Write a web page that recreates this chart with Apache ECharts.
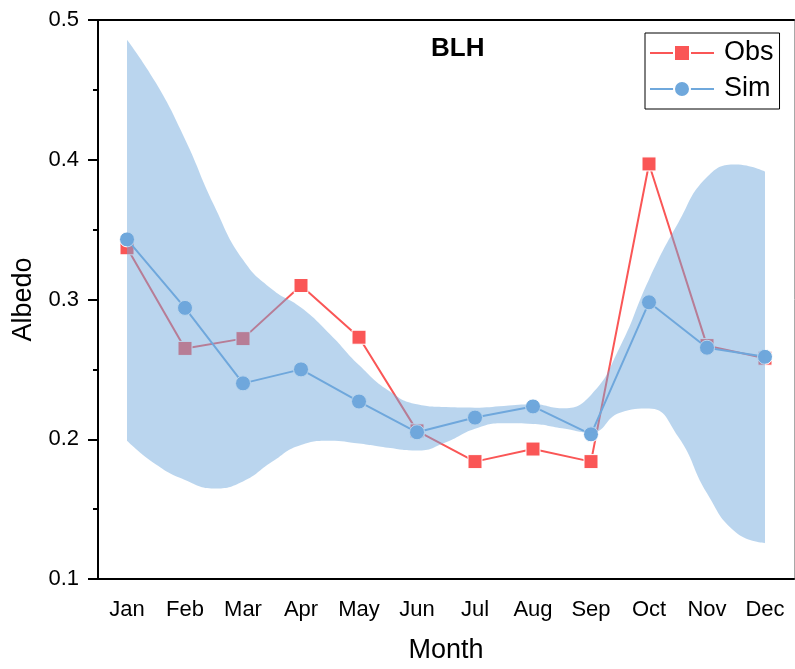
<!DOCTYPE html>
<html>
<head>
<meta charset="utf-8">
<script src="https://cdn.jsdelivr.net/npm/echarts@6/dist/echarts.min.js"></script>
<style>
  html, body { margin: 0; padding: 0; background: #fff; }
  #chart { width: 795px; height: 669px; }
</style>
</head>
<body>
<div id="chart"></div>
<script>
// Monthly albedo at BLH: observed, simulated and the simulated envelope
const months = ['Jan', 'Feb', 'Mar', 'Apr', 'May', 'Jun', 'Jul', 'Aug', 'Sep', 'Oct', 'Nov', 'Dec'];
const obs = [0.337, 0.265, 0.272, 0.310, 0.273, 0.206, 0.184, 0.193, 0.184, 0.397, 0.267, 0.258];
const sim = [0.343, 0.294, 0.240, 0.250, 0.227, 0.205, 0.2155, 0.2235, 0.2035, 0.298, 0.2655, 0.259];

// envelope of the simulation, sampled every half month (0 = Jan, 11 = Dec)
const envPos = ['0', '0.5', '1', '1.5', '2', '2.5', '3', '3.5', '4', '4.5', '5', '5.5',
                '6', '6.5', '7', '7.5', '8', '8.5', '9', '9.5', '10', '10.5', '11'];
const envUpper = [0.486, 0.455, 0.415, 0.368, 0.329, 0.308, 0.295, 0.276, 0.254, 0.236, 0.226, 0.224,
                  0.2236, 0.2248, 0.226, 0.2232, 0.2327, 0.267, 0.315, 0.355, 0.388, 0.397, 0.392];
const envLower = [0.200, 0.183, 0.172, 0.166, 0.171, 0.185, 0.197, 0.200, 0.198, 0.195, 0.193, 0.199,
                  0.2086, 0.2125, 0.212, 0.2089, 0.2058, 0.220, 0.223, 0.203, 0.1625, 0.1345, 0.127];
const yTicks = { min: 0.1, max: 0.5, step: 0.1 };

const FONT = 'Liberation Sans, Arial, sans-serif';
const RED = '#FA5656';
const BLUE = '#6FA8DC';

// envelope drawn as a thickness stacked on the lower bound
const envSpan = envUpper.map((u, i) => +(u - envLower[i]).toFixed(4));

// plot box; the envelope grid runs from the Jan centre to the Dec centre
const PLOT = { left: 98, right: 1, top: 20, bottom: 88 };
const band = (795 - PLOT.left - PLOT.right) / months.length;

const chart = echarts.init(document.getElementById('chart'), null, { renderer: 'canvas' });

chart.setOption({
  animation: false,
  backgroundColor: '#fff',
  title: {
    text: 'BLH',
    left: 426,
    top: 31,
    textStyle: { fontFamily: FONT, fontSize: 26, fontWeight: 'bold', color: '#000' }
  },
  legend: {
    data: ['Obs', 'Sim'],
    orient: 'vertical',
    left: 645,
    top: 33,
    z: 10,
    padding: [5, 6, 5, 4],
    itemGap: 6,
    itemWidth: 64,
    itemHeight: 20,
    borderColor: '#000',
    borderWidth: 1,
    textStyle: { fontFamily: FONT, fontSize: 27, color: '#000', lineHeight: 30, padding: [0, 0, 0, 5] }
  },
  grid: [
    { left: PLOT.left, right: PLOT.right, top: PLOT.top, bottom: PLOT.bottom, containLabel: false },
    { left: PLOT.left + band / 2, right: PLOT.right + band / 2, top: PLOT.top, bottom: PLOT.bottom, containLabel: false }
  ],
  xAxis: [
    {
      type: 'category',
      gridIndex: 0,
      data: months,
      boundaryGap: true,
      name: 'Month',
      nameLocation: 'middle',
      nameGap: 58,
      nameTextStyle: { fontFamily: FONT, fontSize: 27, color: '#000' },
      axisLine: { lineStyle: { color: '#000', width: 2 } },
      axisTick: { alignWithLabel: true, length: 10, lineStyle: { color: '#000', width: 2 } },
      axisLabel: { fontFamily: FONT, fontSize: 22, color: '#000', margin: 20 },
      splitLine: { show: false }
    },
    {
      type: 'category',
      gridIndex: 0,
      data: months,
      position: 'top',
      axisLine: { lineStyle: { color: '#000', width: 2 } },
      axisTick: { show: false },
      axisLabel: { show: false },
      splitLine: { show: false }
    },
    {
      type: 'category',
      gridIndex: 1,
      data: envPos,
      boundaryGap: false,
      show: false
    }
  ],
  yAxis: [
    {
      type: 'value',
      gridIndex: 0,
      min: yTicks.min,
      max: yTicks.max,
      interval: yTicks.step,
      name: 'Albedo',
      nameLocation: 'middle',
      nameGap: 60,
      nameTextStyle: { fontFamily: FONT, fontSize: 27, color: '#000' },
      axisLine: { show: true, lineStyle: { color: '#000', width: 2 } },
      axisTick: { show: true, length: 10, lineStyle: { color: '#000', width: 2 } },
      minorTick: { show: true, splitNumber: 2, length: 5, lineStyle: { color: '#000', width: 2 } },
      axisLabel: { fontFamily: FONT, fontSize: 22, color: '#000', margin: 19,
        formatter: v => v.toFixed(1) },
      splitLine: { show: false }
    },
    {
      type: 'value',
      gridIndex: 0,
      min: yTicks.min,
      max: yTicks.max,
      position: 'right',
      axisLine: { show: true, lineStyle: { color: '#A8A8A8', width: 1 } },
      axisTick: { show: false },
      axisLabel: { show: false },
      splitLine: { show: false }
    },
    {
      type: 'value',
      gridIndex: 1,
      min: yTicks.min,
      max: yTicks.max,
      show: false
    }
  ],
  series: [
    {
      name: 'Obs',
      type: 'line',
      data: obs,
      z: 2,
      symbol: 'rect',
      symbolSize: 14,
      lineStyle: { color: RED, width: 2 },
      itemStyle: { color: RED, borderColor: '#fff', borderWidth: 1 }
    },
    {
      name: 'Sim',
      type: 'line',
      data: sim,
      z: 3,
      symbol: 'circle',
      symbolSize: 15,
      lineStyle: { color: BLUE, width: 2 },
      itemStyle: { color: BLUE, borderColor: '#fff', borderWidth: 1 }
    },
    {
      name: 'lower',
      type: 'line',
      xAxisIndex: 2,
      yAxisIndex: 2,
      data: envLower,
      stack: 'envelope',
      smooth: 0.5,
      showSymbol: false,
      symbol: 'none',
      silent: true,
      lineStyle: { opacity: 0 },
      z: 4
    },
    {
      name: 'envelope',
      type: 'line',
      xAxisIndex: 2,
      yAxisIndex: 2,
      data: envSpan,
      stack: 'envelope',
      smooth: 0.5,
      showSymbol: false,
      symbol: 'none',
      silent: true,
      lineStyle: { opacity: 0 },
      areaStyle: { color: 'rgba(111,168,220,0.48)', opacity: 1 },
      z: 4
    }
  ]
});
</script>
</body>
</html>
